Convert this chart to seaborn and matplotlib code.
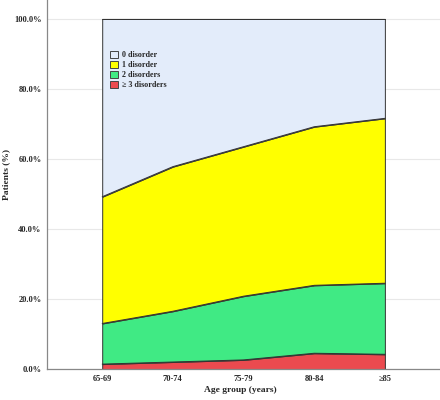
import matplotlib
matplotlib.use("Agg")
import matplotlib.pyplot as plt
import seaborn as sns
import pandas as pd
import numpy as np
from matplotlib.patches import Patch
from matplotlib.ticker import FuncFormatter

age_groups = ["65-69", "70-74", "75-79", "80-84", "\u226585"]
zero_disorder = [50.8, 42.2, 36.5, 30.8, 28.4]
one_disorder = [36.2, 41.3, 42.7, 45.3, 47.1]
two_disorders = [11.6, 14.5, 18.2, 19.4, 20.3]
three_plus = [1.4, 2.0, 2.6, 4.5, 4.2]

series_names = ["\u2265 3 disorders", "2 disorders", "1 disorder", "0 disorder"]
colors = ["#EB4A4F", "#40EA84", "#FFFF00", "#E3ECFA"]

sns.set_style("white")
plt.rcParams["font.family"] = ["Liberation Serif", "DejaVu Serif"]
plt.rcParams["font.weight"] = "bold"

df = pd.DataFrame({
    "age": age_groups,
    series_names[0]: three_plus,
    series_names[1]: two_disorders,
    series_names[2]: one_disorder,
    series_names[3]: zero_disorder,
})
x = np.arange(len(age_groups))

fig = plt.figure(figsize=(4.4, 4.0), dpi=100)
ax = fig.add_axes([0.107, 0.0775, 0.893, 0.9225])

ax.stackplot(x, [df[s] for s in series_names], colors=colors,
             edgecolor="#333333", linewidth=0.7, zorder=2)

# boundary lines via seaborn
cum = df[series_names].cumsum(axis=1)
for s in series_names:
    sns.lineplot(x=x, y=cum[s].values, color="#333333", linewidth=0.7,
                 ax=ax, zorder=3)

ax.set_xlim(-0.78, 4.78)
ax.set_ylim(0, 105.4)
ax.set_yticks([0, 20, 40, 60, 80, 100])
ax.yaxis.set_major_formatter(FuncFormatter(lambda v, p: f"{v:.1f}%"))
ax.set_xticks(x)
ax.set_xticklabels(age_groups)
ax.tick_params(axis="both", labelsize=6, length=0, pad=4)
for lab in ax.get_xticklabels() + ax.get_yticklabels():
    lab.set_fontweight("bold")
ax.yaxis.grid(True, color="#e8e8e8", linewidth=0.8, zorder=0)
ax.set_axisbelow(True)

for side in ["top", "right"]:
    ax.spines[side].set_visible(False)
for side in ["left", "bottom"]:
    ax.spines[side].set_color("#888888")
    ax.spines[side].set_linewidth(0.9)

ax.set_xlabel("Age group (years)", fontsize=6.8, fontweight="bold", va="center")
ax.set_ylabel("Patients (%)", fontsize=6.8, fontweight="bold", va="center")
ax.xaxis.set_label_coords(0.491, -0.057)
ax.yaxis.set_label_coords(-0.103, 0.528)

handles = [Patch(facecolor=colors[i], edgecolor="#444444", linewidth=0.7,
                 label=series_names[i]) for i in [3, 2, 1, 0]]
ax.legend(handles=handles, loc="upper left", bbox_to_anchor=(0.16, 0.862),
          frameon=False, handlelength=1.0, handleheight=1.0,
          handletextpad=0.45, labelspacing=0.2, borderaxespad=0, borderpad=0,
          prop={"weight": "bold", "size": 5.8})

fig.savefig("out.png", dpi=100)
